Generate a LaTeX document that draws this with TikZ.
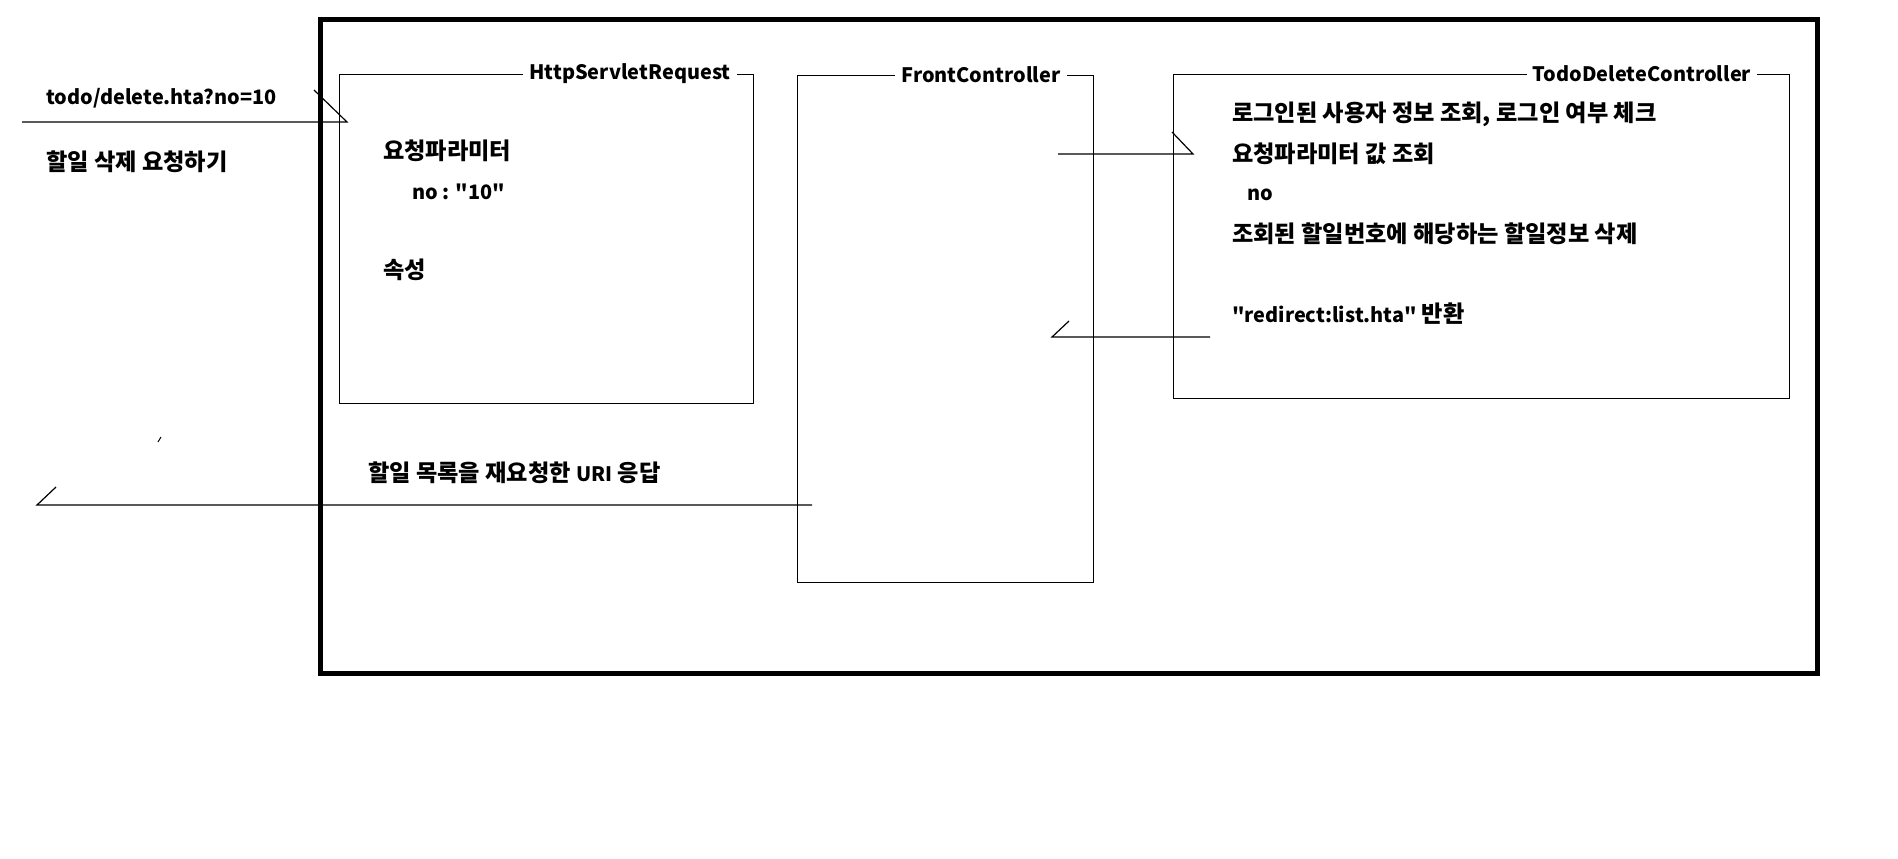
\documentclass[tikz,border=0pt]{standalone}
\usepackage{fontspec}
\setmainfont{Noto Sans CJK KR}[Ligatures=TeXOff]
\newcommand\latsz{\fontsize{19.9}{24}\selectfont}
\newcommand\korsz{\fontsize{23.2}{26}\selectfont}
\newcommand\lt[1]{{\latsz #1}}
\begin{document}
\begin{tikzpicture}[x=1pt,y=-1pt,
  every node/.style={font=\bfseries\korsz, inner sep=0pt},
  box/.style={draw, line width=1.2pt, anchor=north west},
  ttl/.style={fill=white, inner xsep=6pt, inner ysep=2pt, font=\bfseries\latsz},
  txt/.style={anchor=west},
  lat/.style={anchor=west, font=\bfseries\latsz},
  conn/.style={line width=1.2pt}]
\useasboundingbox (0,0) rectangle (1898,859);
\node[draw, line width=5pt, anchor=north west, minimum width=1497pt, minimum height=654pt] (outer) at (318,17) {};
\node[box, minimum width=414pt, minimum height=329pt] (req) at (339,74) {};
\node[ttl] (reqt) at (630,74) {HttpServletRequest};
\node[box, minimum width=296pt, minimum height=507pt] (fc) at (797,75) {};
\node[ttl] (fct) at (981,75) {FrontController};
\node[box, minimum width=616pt, minimum height=324pt] (tdc) at (1173,74) {};
\node[ttl] (tdct) at (1642,74) {TodoDeleteController};
\node[lat] (url) at (46,98) {todo/delete.hta?no=10};
\node[txt] (reqlbl) at (46,162) {할일 삭제 요청하기};
\node[txt] (param) at (383,151) {요청파라미터};
\node[lat] (pno) at (412,192) {no : "10"};
\node[txt] (attr) at (383,270) {속성};
\node[txt] (resp) at (368,473) {할일 목록을 재요청한 \lt{URI} 응답};
\node[txt] (t1) at (1232,114) {로그인된 사용자 정보 조회, 로그인 여부 체크};
\node[txt] (t2) at (1232,154) {요청파라미터 값 조회};
\node[lat] (t3) at (1247,195) {no};
\node[txt] (t4) at (1232,234) {조회된 할일번호에 해당하는 할일정보 삭제};
\node[txt] (t5) at (1232,314) {\lt{"redirect:list.hta"} 반환};
\coordinate (a1s) at (22,122); \coordinate (a1e) at (347,122); \coordinate (a1b) at (314,90);
\draw[conn] (a1s) -- (a1e) -- (a1b);
\coordinate (a2s) at (1058,154); \coordinate (a2e) at (1193,154); \coordinate (a2b) at (1172,132);
\draw[conn] (a2s) -- (a2e) -- (a2b);
\coordinate (a3s) at (1210,337); \coordinate (a3e) at (1052,337); \coordinate (a3b) at (1069,321);
\draw[conn] (a3s) -- (a3e) -- (a3b);
\coordinate (a4s) at (812,505); \coordinate (a4e) at (37,505); \coordinate (a4b) at (56,487);
\draw[conn] (a4s) -- (a4e) -- (a4b);
\coordinate (k1) at (158,442); \coordinate (k2) at (161,437);
\draw[line width=1pt] (k1) -- (k2);
\end{tikzpicture}
\end{document}
